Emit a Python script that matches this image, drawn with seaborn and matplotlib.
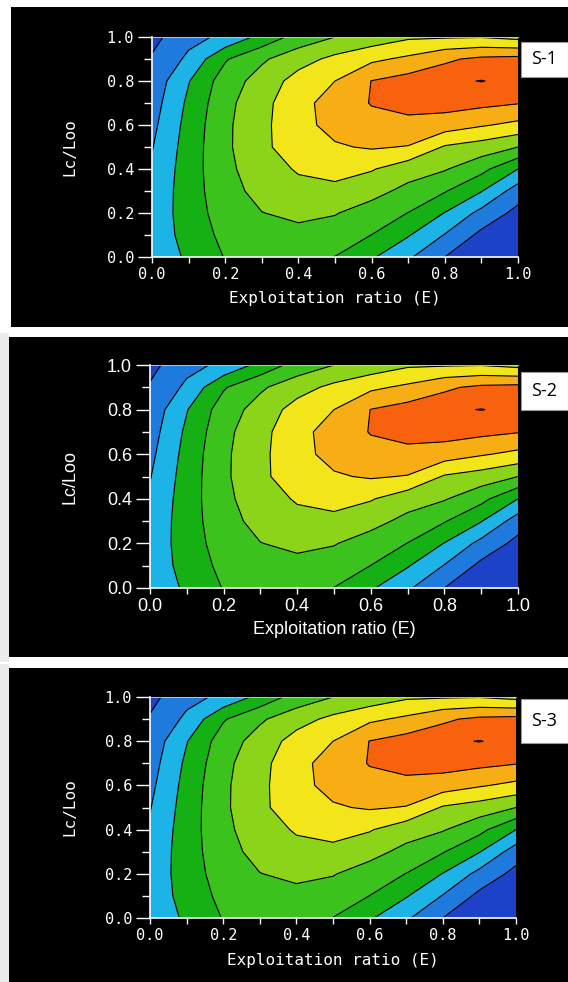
import numpy as np
import matplotlib
matplotlib.use("Agg")
import matplotlib.pyplot as plt
from matplotlib.patches import Rectangle
from matplotlib.ticker import MultipleLocator
import seaborn as sns

# ---------------- data ----------------
E_values = [0.0, 0.1, 0.2, 0.3, 0.4, 0.5, 0.6, 0.7, 0.8, 0.9, 1.0]
Lc_values = [0.0, 0.1, 0.2, 0.3, 0.4, 0.5, 0.6, 0.7, 0.8, 0.9, 1.0]

# relative-yield isopleth level (in contour-band units) on the E x Lc grid;
# each list is one Lc row, values for E = 0.0 ... 1.0
yield_lc_00 = [2.60, 3.10, 4.05, 4.45, 4.35, 3.98, 3.12, 2.15, 1.00, 0.35, -0.30]
yield_lc_01 = [2.50, 3.30, 4.30, 4.75, 4.75, 4.60, 3.99, 3.08, 1.95, 0.75, 0.20]
yield_lc_02 = [2.40, 3.45, 4.50, 4.98, 5.20, 5.05, 4.60, 3.98, 2.97, 1.70, 0.70]
yield_lc_03 = [2.30, 3.50, 4.65, 5.30, 5.70, 5.70, 5.30, 4.75, 4.07, 3.05, 1.50]
yield_lc_04 = [2.15, 3.50, 4.75, 5.55, 6.10, 6.40, 6.08, 5.40, 5.08, 4.30, 3.00]
yield_lc_05 = [1.95, 3.45, 4.80, 5.80, 6.50, 6.90, 7.10, 6.95, 5.90, 5.55, 5.00]
yield_lc_06 = [1.75, 3.35, 4.80, 5.75, 6.70, 7.30, 7.70, 7.75, 7.50, 7.10, 6.75]
yield_lc_07 = [1.55, 3.20, 4.70, 5.70, 6.65, 7.45, 8.05, 8.30, 8.40, 8.25, 8.05]
yield_lc_08 = [1.35, 2.95, 4.50, 5.40, 6.40, 7.00, 8.02, 8.40, 8.55, 8.65, 8.50]
yield_lc_09 = [1.10, 2.20, 3.90, 4.85, 5.60, 6.25, 6.80, 7.20, 7.85, 8.20, 8.30]
yield_lc_10 = [0.70, 1.70, 2.20, 3.30, 4.40, 5.00, 5.40, 5.85, 5.90, 5.95, 5.70]

panel_names = ["S-1", "S-2", "S-3"]
tick_values = [0.0, 0.2, 0.4, 0.6, 0.8, 1.0]
tick_labels = ["0.0", "0.2", "0.4", "0.6", "0.8", "1.0"]
x_label = "Exploitation ratio (E)"
y_label = "Lc/Loo"

contour_levels = [1, 2, 3, 4, 5, 6, 7, 8, 8.635]
band_colors = ["#1c42c8", "#1f7ade", "#1cb4e6", "#14b014", "#3cc21c",
               "#8cd41a", "#f2e61a", "#f7ae14", "#f8620e", "#f8620e"]

# ---------------- figure ----------------
sns.set_theme(style="white")
plt.rcParams["font.family"] = ["DejaVu Sans"]

W, H = 568, 982
fig = plt.figure(figsize=(W / 100, H / 100), dpi=100, facecolor="white")


def frac_rect(x0, y0, x1, y1):
    return [x0 / W, 1 - y1 / H, (x1 - x0) / W, (y1 - y0) / H]


def add_rect(x0, y0, x1, y1, z, **kw):
    fig.patches.append(Rectangle((x0 / W, 1 - y1 / H), (x1 - x0) / W, (y1 - y0) / H,
                                 transform=fig.transFigure, zorder=z, **kw))


layouts = [
    dict(bg=(11, 7, 568, 327), ax=(152, 37, 518, 257), box=(521, 42, 568, 77),
         family="DejaVu Sans Mono", tsize=11, lsize=11.5, lab_y=298, strip=None),
    dict(bg=(9, 337, 568, 657), ax=(150, 365, 518, 588), box=(521, 372, 568, 410),
         family="Liberation Sans", tsize=13, lsize=13, lab_y=630, strip=(0, 333, 9, 662)),
    dict(bg=(9, 668, 568, 982), ax=(150, 697, 516, 918), box=(521, 699, 568, 743),
         family="DejaVu Sans Mono", tsize=11, lsize=11.5, lab_y=960, strip=(0, 664, 9, 982)),
]

Z = np.array([yield_lc_00, yield_lc_01, yield_lc_02, yield_lc_03, yield_lc_04,
              yield_lc_05, yield_lc_06, yield_lc_07, yield_lc_08, yield_lc_09,
              yield_lc_10])
Eg, Lg = np.meshgrid(E_values, Lc_values)
fill_levels = [-1.0] + contour_levels + [10.0]
palette = sns.color_palette(band_colors)

for name, lay in zip(panel_names, layouts):
    if lay["strip"] is not None:
        add_rect(*lay["strip"], z=-20, facecolor="#ececec", edgecolor="none")
    add_rect(*lay["bg"], z=-10, facecolor="black", edgecolor="none")

    ax = fig.add_axes(frac_rect(*lay["ax"]))
    ax.set_facecolor("black")
    ax.contourf(Eg, Lg, Z, levels=fill_levels, colors=palette, antialiased=True)
    ax.contour(Eg, Lg, Z, levels=contour_levels, colors="black", linewidths=0.8)
    ax.set_xlim(0, 1)
    ax.set_ylim(0, 1)

    fam = lay["family"]
    fs = lay["tsize"]
    ax.set_xticks(tick_values)
    ax.set_xticklabels(tick_labels, family=fam, fontsize=fs, color="white")
    ax.set_yticks(tick_values)
    ax.set_yticklabels(tick_labels, family=fam, fontsize=fs, color="white")
    ax.xaxis.set_minor_locator(MultipleLocator(0.1))
    ax.yaxis.set_minor_locator(MultipleLocator(0.1))
    ax.tick_params(axis="x", which="both", direction="out", length=4, width=1.0,
                   color="white", pad=3, bottom=True)
    ax.tick_params(axis="y", which="major", direction="out", length=10, width=1.0,
                   color="white", pad=3, left=True)
    ax.tick_params(axis="y", which="minor", direction="out", length=6, width=1.0,
                   color="white", left=True)
    for side in ("left", "bottom"):
        ax.spines[side].set_color("white")
        ax.spines[side].set_linewidth(1.2)
    ax.spines["top"].set_color("#cfcfcf")
    ax.spines["top"].set_linewidth(0.6)
    ax.spines["right"].set_visible(False)
    ax.grid(False)

    ax_x0, ax_y0, ax_x1, ax_y1 = lay["ax"]
    fig.text(((ax_x0 + ax_x1) / 2) / W, 1 - lay["lab_y"] / H, x_label,
             family=fam, fontsize=lay["lsize"], color="white", ha="center", va="center")
    fig.text(70 / W, 1 - ((ax_y0 + ax_y1) / 2) / H, y_label, family=fam,
             fontsize=lay["lsize"], color="white", ha="center", va="center", rotation=90)

    add_rect(*lay["box"], z=5, facecolor="white", edgecolor="#9a9a9a", linewidth=0.8)
    bx0, by0, bx1, by1 = lay["box"]
    fig.text(((bx0 + bx1) / 2) / W, 1 - ((by0 + by1) / 2) / H, name,
             family="Open Sans", fontsize=13, color="black", ha="center",
             va="center", zorder=6)

fig.savefig("out.png", dpi=100, facecolor="white")
